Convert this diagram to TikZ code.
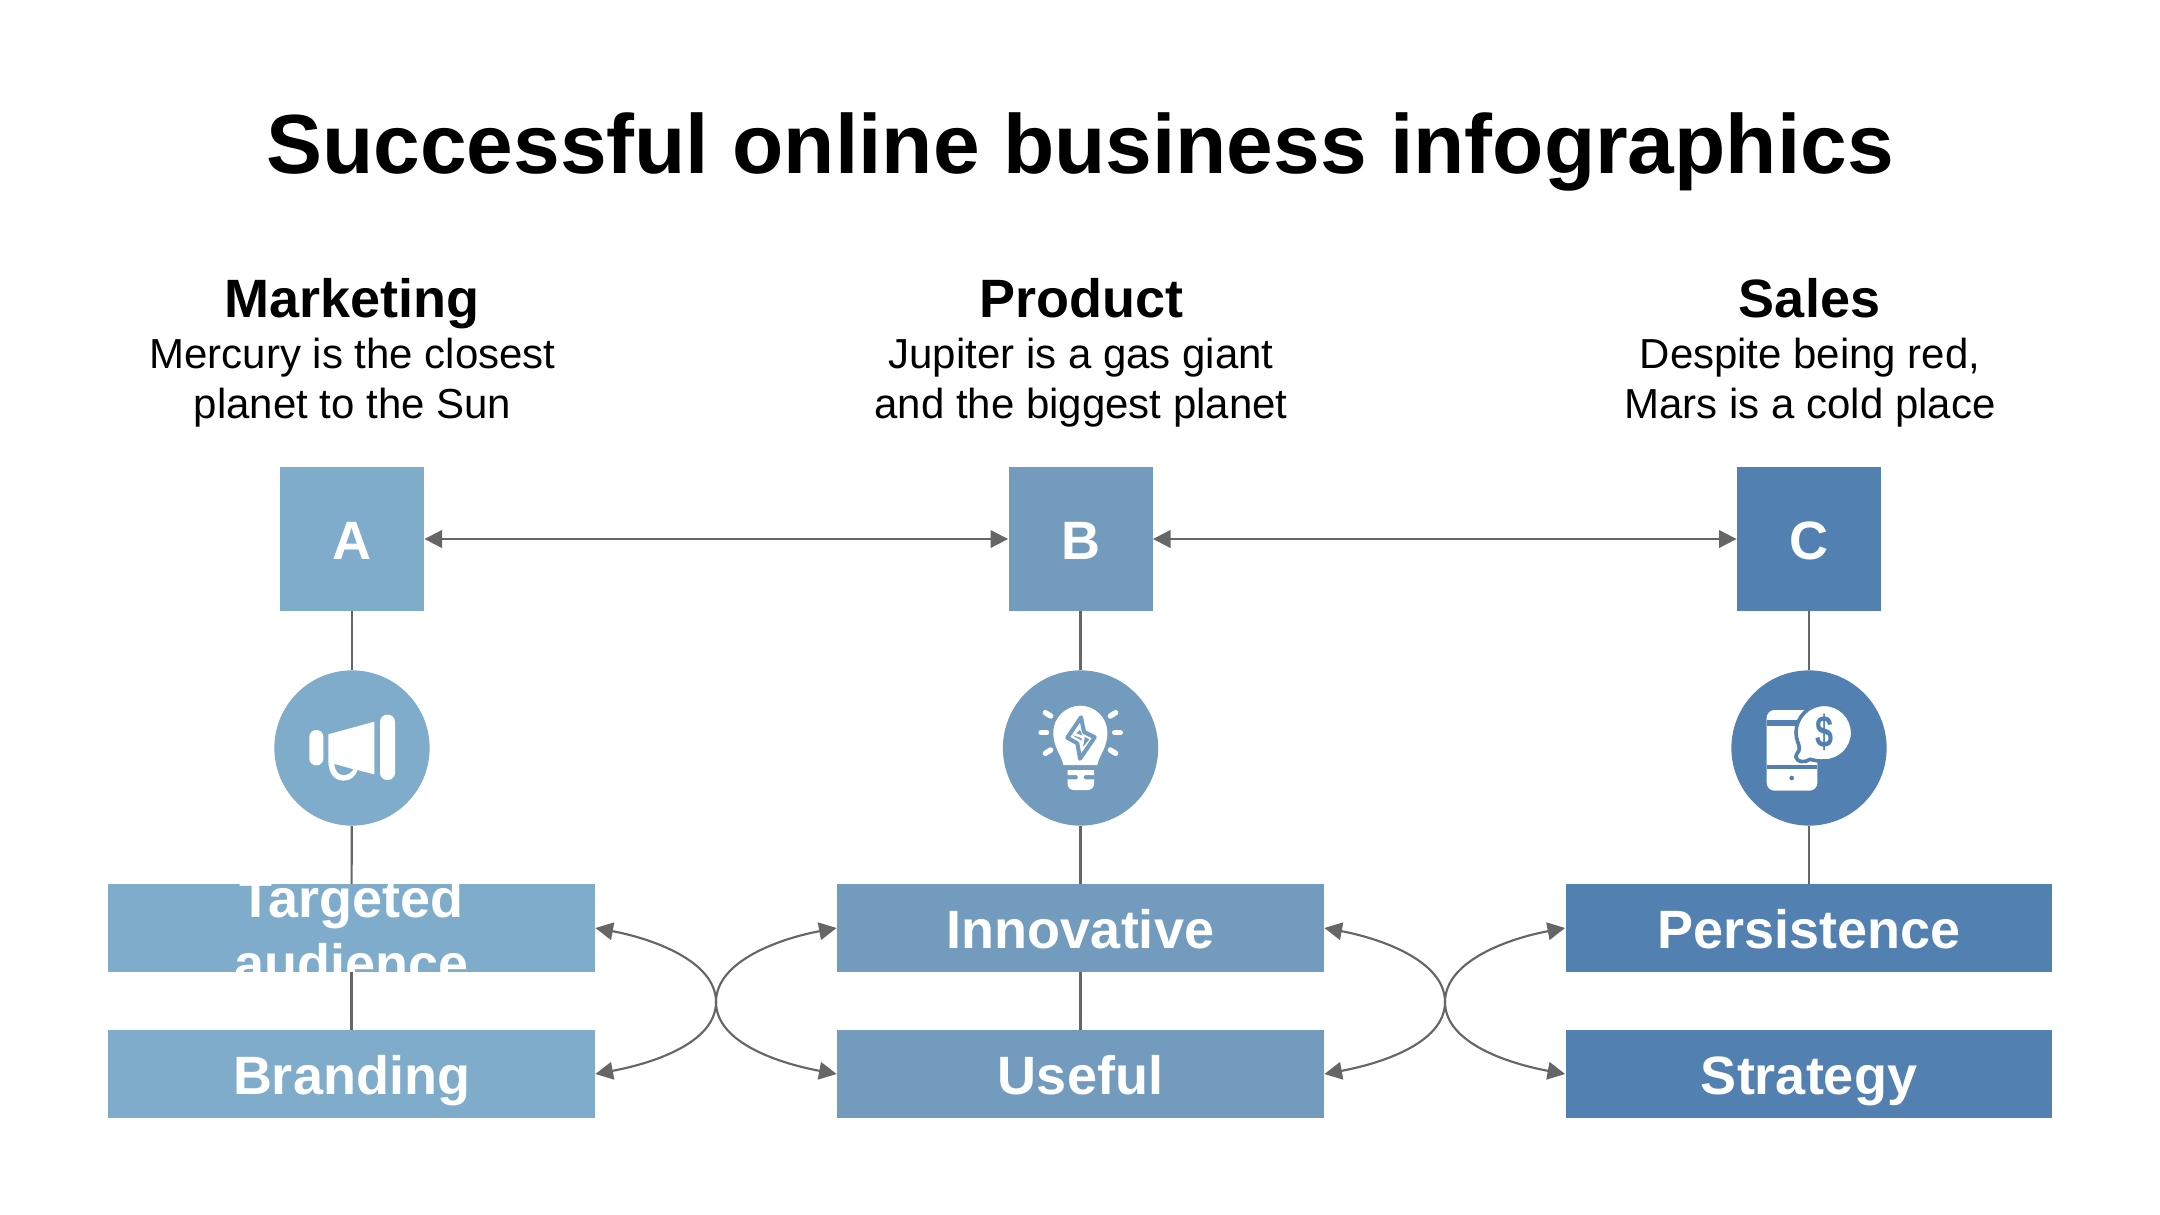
\documentclass[tikz,border=0pt]{standalone}
\usepackage{fontspec}
\setmainfont{Liberation Sans}
\usetikzlibrary{arrows.meta,calc}
\definecolor{colA}{HTML}{80ACCC}
\definecolor{colB}{HTML}{739BBE}
\definecolor{colC}{HTML}{5280B0}
\definecolor{conn}{HTML}{666666}
\tikzset{
  x=0.44444pt,y=-0.44444pt,
  lettersq/.style={rectangle,inner sep=0pt,minimum width=64pt,minimum height=64pt,text=white,text height=18.4pt,text depth=0pt,font=\fontsize{24}{29}\selectfont\bfseries},
  roundbg/.style={circle,inner sep=0pt,minimum size=69pt},
  barbox/.style={rectangle,inner sep=0pt,minimum width=216.4pt,minimum height=38.8pt,text=white,text height=20pt,text depth=1.6pt,font=\fontsize{24}{29}\selectfont\bfseries},
  titletext/.style={inner sep=0pt,anchor=base,font=\fontsize{37.3}{45}\selectfont\bfseries},
  headtext/.style={inner sep=0pt,anchor=base,font=\fontsize{24}{29}\selectfont\bfseries},
  bodytext/.style={inner sep=0pt,anchor=base,font=\fontsize{18.65}{22}\selectfont},
  link/.style={draw=conn,line width=0.95pt},
  twoway/.style={draw=conn,line width=0.95pt,{Triangle[length=7.8pt,width=7.8pt]}-{Triangle[length=7.8pt,width=7.8pt]}},
  iconpart/.style={fill=white,draw=none},
  ray/.style={draw=white,line width=2.4pt,line cap=round},
}
\begin{document}
\begin{tikzpicture}
\useasboundingbox (0,0) rectangle (2160,1215);
\fill[white] (0,0) rectangle (2160,1215);

\node[titletext] (title) at (1080,174) {Successful online business infographics};

\node[headtext] (hA) at (352,317) {Marketing};
\node[bodytext] (bA1) at (352.5,368) {Mercury is the closest};
\node[bodytext] (bA2) at (352.5,418) {planet to the Sun};
\node[headtext] (hB) at (1081,317) {Product};
\node[bodytext] (bB1) at (1081,368) {Jupiter is a gas giant};
\node[bodytext] (bB2) at (1081,418) {and the biggest planet};
\node[headtext] (hC) at (1809.5,317) {Sales};
\node[bodytext] (bC1) at (1810,368) {Despite being red,};
\node[bodytext] (bC2) at (1810,418) {Mars is a cold place};

% nodes
\node[lettersq,fill=colA] (sqA) at (352,539) {A};
\node[lettersq,fill=colB] (sqB) at (1080.5,539) {B};
\node[lettersq,fill=colC] (sqC) at (1809,539) {C};
\node[roundbg,fill=colA] (cA) at (352,748) {};
\node[roundbg,fill=colB] (cB) at (1080.5,748) {};
\node[roundbg,fill=colC] (cC) at (1809,748) {};

\node[barbox,fill=colA] (t1) at (351.5,928) {};
\begin{scope}
\clip (t1.south west) rectangle (t1.north east);
\node[text=white,font=\fontsize{24}{29}\selectfont\bfseries,align=center,inner sep=0pt] (t1txt) at (351.5,931) {Targeted\\audience};
\end{scope}
\node[barbox,fill=colA] (t2) at (351.5,1074) {Branding};
\node[barbox,fill=colB] (m1) at (1080.5,928) {Innovative};
\node[barbox,fill=colB] (m2) at (1080.5,1074) {Useful};
\node[barbox,fill=colC] (r1) at (1809,928) {Persistence};
\node[barbox,fill=colC] (r2) at (1809,1074) {Strategy};

% connectors
\draw[link] (sqA) -- (cA);
\draw[link] (cA) -- (t1);
\draw[link] (t1) -- (t2);
\draw[link] (sqB) -- (cB);
\draw[link] (cB) -- (m1);
\draw[link] (m1) -- (m2);
\draw[link] (sqC) -- (cC);
\draw[link] (cC) -- (r1);
\draw[twoway] (sqA) -- (sqB);
\draw[twoway] (sqB) -- (sqC);

\coordinate (x1) at (716,1002);
\coordinate (x2) at (1445,1002);
\draw[twoway] (t1.east) .. controls +(54,10) and ($(x1)+(0,-42)$) .. (x1) .. controls ($(x1)+(0,42)$) and ($(t2.east)+(54,-10)$) .. (t2.east);
\draw[twoway] (m1.west) .. controls +(-54,10) and ($(x1)+(0,-42)$) .. (x1) .. controls ($(x1)+(0,42)$) and ($(m2.west)+(-54,-10)$) .. (m2.west);
\draw[twoway] (m1.east) .. controls +(54,10) and ($(x2)+(0,-42)$) .. (x2) .. controls ($(x2)+(0,42)$) and ($(m2.east)+(54,-10)$) .. (m2.east);
\draw[twoway] (r1.west) .. controls +(-54,10) and ($(x2)+(0,-42)$) .. (x2) .. controls ($(x2)+(0,42)$) and ($(r2.west)+(-54,-10)$) .. (r2.west);

% megaphone icon
\begin{scope}[shift={(240,640)},x=0.14815pt,y=-0.14815pt]
\fill[iconpart,rounded corners=3pt] (208,270) rectangle (250,376);
\fill[iconpart,rounded corners=3.2pt] (420,224) rectangle (465,420);
\fill[iconpart] (265,283) -- (403,245) -- (403,403) -- (352,390) .. controls (345,412) and (330,422) .. (310,422) .. controls (285,422) and (266,402) .. (265,365) -- cycle;
\fill[colA] (283,372) -- (340,388) .. controls (330,402) and (318,406) .. (308,405) .. controls (295,404) and (285,392) .. (283,372) -- cycle;
\end{scope}

% bulb icon
\begin{scope}[shift={(970,640)},x=0.14815pt,y=-0.14815pt]
\fill[iconpart] (280,375) .. controls (275,345) and (250,325) .. (250,278) .. controls (250,230) and (290,197) .. (331,197) .. controls (372,197) and (412,230) .. (412,278) .. controls (412,325) and (387,345) .. (382,375) -- cycle;
\draw[colB,line width=1.8pt,line join=round,fill=white] (333,232) -- (292,293) -- (322,310) -- (330,356) -- (374,292) -- (342,276) -- cycle;
\fill[colB] (310,288) -- (330,270) -- (338,288) -- (358,298) -- (340,320) -- (332,300) -- cycle;
\draw[white,line width=1.2pt,line join=round] (312,282) -- (340,292) -- (335,320);
\fill[iconpart] (293,390) -- (372,390) -- (372,405) -- (345,405) -- (340,412) -- (345,418) -- (372,418) -- (372,432) .. controls (372,444) and (362,450) .. (352,450) -- (312,450) .. controls (302,450) and (293,444) .. (293,432) -- (293,418) -- (320,418) -- (325,412) -- (320,405) -- (293,405) -- cycle;
\draw[ray] (226,218) -- (242,228);
\draw[ray] (213,278) -- (230,278);
\draw[ray] (226,340) -- (242,330);
\draw[ray] (437,218) -- (421,228);
\draw[ray] (451,278) -- (434,278);
\draw[ray] (437,340) -- (421,330);
\end{scope}

% phone icon
\begin{scope}[shift={(1710,640)},x=0.14815pt,y=-0.14815pt]
\fill[iconpart,rounded corners=3.5pt] (170,210) rectangle (322,452);
\fill[colC] (170,240) rectangle (260,258);
\fill[colC] (170,375) rectangle (322,388);
\fill[colC] (245,414) circle[radius=7];
\draw[colC,line width=1.6pt,fill=white] (343,193) .. controls (295,193) and (258,232) .. (258,278) .. controls (258,300) and (268,312) .. (268,325) .. controls (268,338) and (255,342) .. (258,352) .. controls (262,368) and (285,368) .. (300,358) .. controls (315,362) and (330,364) .. (343,363) .. controls (390,363) and (428,325) .. (428,278) .. controls (428,232) and (390,193) .. (343,193) -- cycle;
\node[text=colC,font=\fontsize{20}{24}\selectfont\bfseries,inner sep=0pt,xscale=0.72] (dollar) at (343,278) {\$};
\end{scope}
\end{tikzpicture}
\end{document}
